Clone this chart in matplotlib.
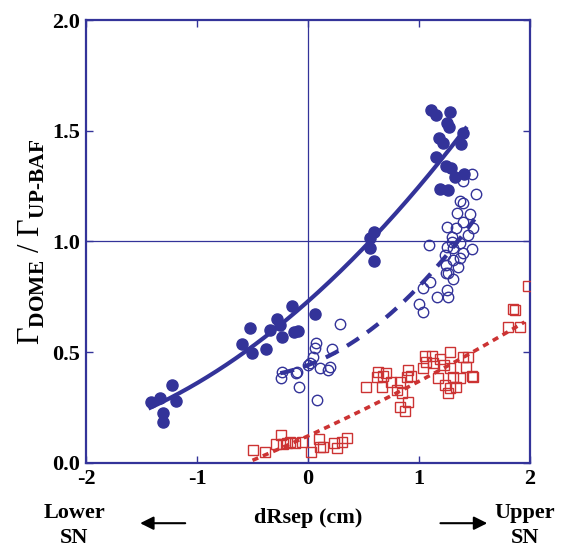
import numpy as np
import matplotlib
matplotlib.use('Agg')
import matplotlib.pyplot as plt

plt.rcParams['font.family'] = ['Liberation Serif', 'DejaVu Serif']
plt.rcParams['font.weight'] = 'bold'
plt.rcParams['mathtext.fontset'] = 'custom'
plt.rcParams['mathtext.rm'] = 'Liberation Serif'
plt.rcParams['mathtext.bf'] = 'Liberation Serif:bold'

BLUE = '#333399'
RED = '#cc3333'

# filled circles
x_fill = [-1.417, -1.333, -1.228, -1.309, -1.309, -1.189,
          -0.597, -0.523, -0.507, -0.378, -0.282, -0.342, -0.237, -0.147,
          -0.124, -0.09, 0.063, -0.25,
          0.597, 0.559, 0.559, 0.597,
          1.105, 1.153, 1.279, 1.249, 1.273, 1.394, 1.183, 1.219, 1.375,
          1.153, 1.243, 1.288, 1.324, 1.405, 1.189, 1.264]
y_fill = [0.274, 0.292, 0.352, 0.227, 0.186, 0.281,
          0.536, 0.608, 0.495, 0.513, 0.649, 0.600, 0.570, 0.710,
          0.593, 0.596, 0.671, 0.625,
          1.044, 1.014, 0.969, 0.912,
          1.594, 1.571, 1.586, 1.534, 1.518, 1.488, 1.466, 1.443, 1.439,
          1.383, 1.342, 1.333, 1.293, 1.305, 1.236, 1.233]

# open circles
x_open = [-0.237, -0.243, -0.108, -0.078, 0.003, 0.048, 0.063, 0.069, 0.078,
          0.108, 0.183, 0.198, 0.219, 0.288, -0.10, 0.02,
          1.474, 1.399, 1.514, 1.369, 1.393, 1.345, 1.459, 1.399, 1.250,
          1.333, 1.483, 1.444, 1.093, 1.294, 1.369, 1.250, 1.309, 1.474,
          1.234, 1.393, 1.309, 1.243, 1.354, 1.264, 1.240, 1.309, 1.033,
          1.099, 1.159, 1.250, 1.258, 1.003, 1.033, 1.369, 1.30]
y_open = [0.412, 0.382, 0.408, 0.345, 0.442, 0.480, 0.518, 0.540, 0.284,
          0.428, 0.420, 0.435, 0.513, 0.628, 0.41, 0.45,
          1.305, 1.275, 1.214, 1.184, 1.175, 1.130, 1.124, 1.089, 1.067,
          1.060, 1.060, 1.029, 0.984, 0.999, 0.992, 0.977, 0.969, 0.965,
          0.939, 0.947, 0.916, 0.894, 0.886, 0.856, 0.857, 0.829, 0.789,
          0.819, 0.751, 0.781, 0.751, 0.718, 0.683, 0.925, 1.02]

# open squares
x_sq = [-0.493, -0.387, -0.288, -0.243, -0.222, -0.162, -0.117, -0.057,
        -0.192, 0.027, 0.102, 0.108, 0.132, 0.237, 0.264, 0.303, 0.348,
        0.523, 0.634, 0.619, 0.679, 0.703, 0.664, 0.745, 0.799, 0.829,
        0.844, 0.904, 0.889, 0.925, 0.904, 0.829, 0.874,
        1.054, 1.114, 1.060, 1.039, 1.123, 1.189, 1.279, 1.225, 1.279,
        1.168, 1.234, 1.279, 1.264, 1.333, 1.399, 1.444, 1.423, 1.369,
        1.474, 1.489, 1.309,
        1.805, 1.850, 1.865, 1.910, 1.979]
y_sq = [0.059, 0.051, 0.084, 0.126, 0.086, 0.096, 0.092, 0.093,
        0.089, 0.051, 0.107, 0.074, 0.071, 0.089, 0.066, 0.096, 0.111,
        0.342, 0.412, 0.387, 0.393, 0.405, 0.345, 0.367, 0.330, 0.367,
        0.317, 0.420, 0.390, 0.393, 0.274, 0.251, 0.236,
        0.483, 0.483, 0.458, 0.427, 0.450, 0.468, 0.503, 0.442, 0.427,
        0.382, 0.352, 0.337, 0.315, 0.345, 0.480, 0.477, 0.435, 0.382,
        0.393, 0.387, 0.390,
        0.615, 0.694, 0.691, 0.613, 0.799]

# fitted curves: quadratic coefficients (highest power first) and x range
fill_coef = [0.0745, 0.444, 0.73]
fill_range = [-1.42, 1.42]
open_coef = [0.1667, 0.189, 0.442]
open_range = [-0.25, 1.5]
sq_coef = [0.0178, 0.229, 0.122]
sq_range = [-0.5, 1.95]

x_ticks = [-2, -1, 0, 1, 2]
x_ticklabels = ['-2', '-1', '0', '1', '2']
y_ticks = [0, 0.5, 1.0, 1.5, 2.0]
y_ticklabels = ['0.0', '0.5', '1.0', '1.5', '2.0']

fig = plt.figure(figsize=(5.82, 5.56), dpi=100)
ax = fig.add_axes([0.1478, 0.1673, 0.7629, 0.7967])

ax.axvline(0, color=BLUE, lw=0.9, zorder=1)
ax.axhline(1.0, color=BLUE, lw=0.9, zorder=1)

ax.plot(x_fill, y_fill, 'o', ms=8, color=BLUE, mec=BLUE, zorder=3)
ax.plot(x_open, y_open, 'o', ms=7.5, mfc='none', mec=BLUE, mew=1.0, zorder=3)
ax.plot(x_sq, y_sq, 's', ms=7.5, mfc='none', mec=RED, mew=1.0, zorder=3)

def curve(coef, rng):
    xx = np.linspace(rng[0], rng[1], 200)
    return xx, np.polyval(coef, xx)

xx, yy = curve(fill_coef, fill_range)
ax.plot(xx, yy, '-', color=BLUE, lw=3, zorder=4)
xx, yy = curve(open_coef, open_range)
ax.plot(xx, yy, color=BLUE, lw=3, dashes=(3.4, 2.4), zorder=4)
xx, yy = curve(sq_coef, sq_range)
ax.plot(xx, yy, color=RED, lw=2.6, dashes=(1.7, 1.4), zorder=4)

ax.set_xlim(-2, 2)
ax.set_ylim(0, 2)
ax.set_xticks(x_ticks)
ax.set_xticklabels(x_ticklabels)
ax.set_yticks(y_ticks)
ax.set_yticklabels(y_ticklabels)
ax.tick_params(direction='in', length=5, width=1, color=BLUE,
               top=True, right=True, labelsize=16, pad=4)
for lab in ax.get_xticklabels() + ax.get_yticklabels():
    lab.set_fontweight('bold')
for s in ax.spines.values():
    s.set_color(BLUE)
    s.set_linewidth(1.6)

ax.set_xlabel('dRsep (cm)', fontsize=16, fontweight='bold', labelpad=14)
ax.set_ylabel(r'Γ$_{\mathbf{DOME}}$ / Γ$_{\mathbf{UP\text{-}BAF}}$',
              fontsize=22, fontweight='normal', labelpad=4)

fig.text(0.128, 0.055, 'Lower\nSN', ha='center', va='center', fontsize=16,
         fontweight='bold', linespacing=1.35)
fig.text(0.902, 0.055, 'Upper\nSN', ha='center', va='center', fontsize=16,
         fontweight='bold', linespacing=1.35)
fig.patches.append(matplotlib.patches.FancyArrowPatch(
    (0.323, 0.059), (0.236, 0.059), transform=fig.transFigure,
    arrowstyle='-|>,head_length=8,head_width=4', color='black', lw=1.5))
fig.patches.append(matplotlib.patches.FancyArrowPatch(
    (0.752, 0.059), (0.842, 0.059), transform=fig.transFigure,
    arrowstyle='-|>,head_length=8,head_width=4', color='black', lw=1.5))

fig.savefig('out.png', dpi=100)
